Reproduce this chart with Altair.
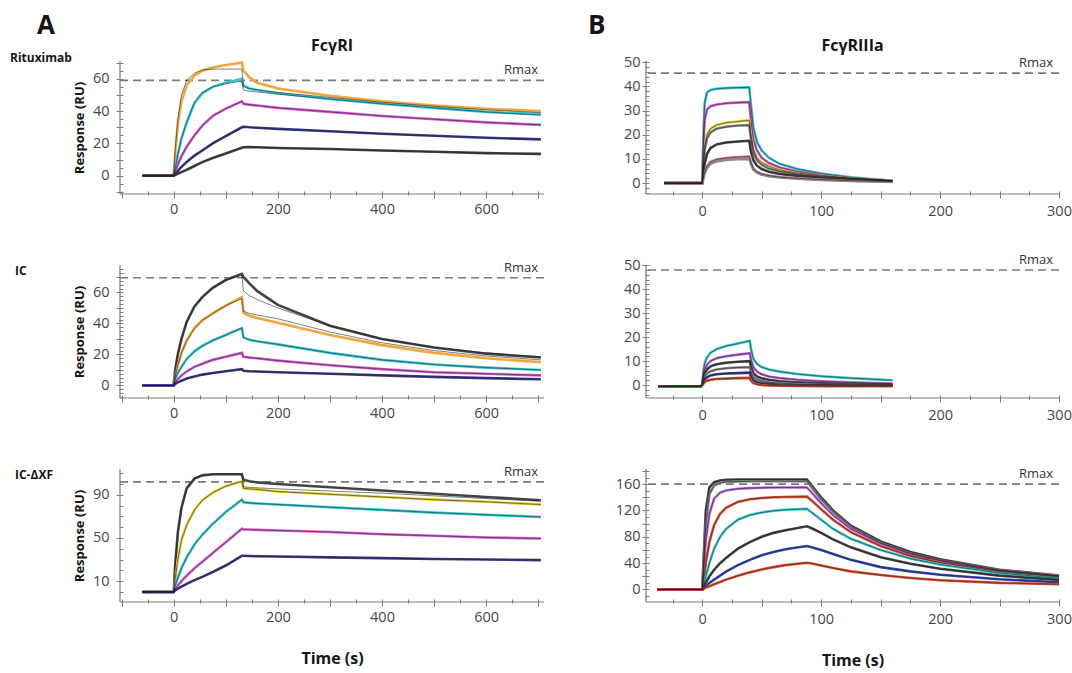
import altair as alt
import pandas as pd

FONT = "Open Sans"
AXIS_GREY = "#7c7c7c"
TICK_LABEL = "#474747"
INK = "#151515"
FIT_INK = "#1c1c1c"

CYAN = "#36c8d6"
MAGENTA = "#d95ad4"
ORANGE = "#f3a63c"
YELLOW = "#e3d02e"
NAVY = "#3a3a8c"
GREY = "#8a8a8a"
DARK = "#444444"
PINK = "#e47a86"
RED = "#e04e2c"
BLUE = "#3448c0"
PURPLE = "#b865dc"

# ---------------- FcγRI (left column), time in s ----------------
T_FC1 = [-60, 0, 3, 8, 15, 25, 40, 55, 75, 100, 131, 134, 145, 160, 200, 300, 400, 500, 600, 705]

RITU1_ORANGE = [0, 0, 14, 32, 46, 56, 62, 65, 67, 68.5, 70, 65, 61, 57.5, 54, 49.5, 46, 43.5, 41.5, 40]
RITU1_FIT1 = [0, 0, 16, 35, 50, 59, 63.5, 65.5, 66, 66, 66, 55, 54, 53.2, 51.5, 48.5, 45.5, 43, 40.8, 39]
RITU1_CYAN = [0, 0, 5, 13, 23, 33, 45, 51, 55, 57.5, 60, 56, 54, 53, 51, 47.5, 44.5, 42, 39.5, 38]
RITU1_FIT2 = [0, 0, 5, 13, 23, 33, 45.5, 51.5, 55, 57, 58.5, 53, 52.3, 51.8, 50.5, 47.5, 44.5, 42, 39.5, 37.5]
RITU1_MAGENTA = [0, 0, 3, 7, 12, 18, 25, 31, 37, 41.5, 46, 44.5, 44, 43.5, 42, 39.5, 37, 35, 33, 31.5]
RITU1_NAVY = [0, 0, 1, 3, 5.5, 8.5, 12.5, 15.6, 20, 24.5, 30, 30.3, 30, 29.7, 29, 27.5, 26, 24.7, 23.5, 22.5]
RITU1_GREY = [0, 0, 0.5, 1.2, 2.2, 3.7, 6, 8.4, 11, 13.8, 17.3, 17.6, 17.7, 17.6, 17.2, 16.5, 15.6, 14.8, 14, 13.5]

IC1_TOP = [0, 0, 10, 20, 30, 41, 51, 57, 63, 68, 72, 70, 66, 61, 52, 38.5, 30, 24.5, 20.5, 18]
IC1_FIT1 = [0, 0, 10, 20, 30, 41, 51, 57, 63, 68, 71, 61, 58, 55.5, 50, 38.5, 30, 24.5, 21, 18.5]
IC1_ORANGE = [0, 0, 6, 13, 21, 29, 37, 42, 46.5, 51.5, 57, 47, 45, 43.5, 40.5, 32.5, 26, 21, 17.5, 15]
IC1_FIT2 = [0, 0, 6, 13, 21, 29, 37, 42, 46.5, 51.5, 56, 48, 46.5, 45.5, 43, 34.5, 27.5, 22.5, 19, 16.5]
IC1_CYAN = [0, 0, 4, 8, 12, 17, 22, 25.5, 29, 32.5, 37, 31, 29.5, 28.5, 26.5, 21, 16.5, 13.5, 11.5, 10]
IC1_MAGENTA = [0, 0, 2, 4, 6.5, 9, 12, 14, 16.5, 18.5, 21, 18.5, 18, 17.5, 16, 13, 10.5, 8.5, 7.5, 6.5]
IC1_NAVY = [0, 0, 1, 2, 3, 4.5, 5.8, 7, 8, 9.2, 10.5, 9.5, 9.2, 9, 8.5, 7.5, 6.5, 5.5, 4.7, 4]

DXF1_TOP = [0, 0, 25, 55, 78, 96, 105, 108, 109, 109, 109, 104, 102.5, 101.5, 100, 97, 94, 91, 88, 85]
DXF1_FIT1 = [0, 0, 25, 55, 78, 96, 105, 108, 109, 109, 109, 97.5, 97, 96.5, 95.5, 93.5, 91.5, 89, 86.5, 84]
DXF1_YELLOW = [0, 0, 12, 30, 48, 62, 76, 85, 92, 98, 102.5, 96, 95.5, 95, 93, 90.5, 88, 85.5, 83.5, 81]
DXF1_CYAN = [0, 0, 6, 13, 22, 32, 44, 53, 63, 74, 85.5, 83, 82.5, 82, 81, 78.5, 76, 73.5, 71.5, 69.5]
DXF1_MAGENTA = [0, 0, 3, 6, 10, 15, 22, 28, 36, 46, 58.5, 58, 57.8, 57.5, 57, 55.5, 53.5, 52, 50.5, 49.5]
DXF1_NAVY = [0, 0, 1.5, 3, 5, 7.5, 11, 14, 18.5, 24.5, 33.5, 33.5, 33.3, 33.1, 32.8, 32, 31.3, 30.6, 30, 29.5]

# ---------------- FcγRIIIa (right column), time in s ----------------
T_FC3_RITU = [-32, 0, 1, 2, 4, 7, 12, 20, 30, 39.5, 41, 43, 46, 50, 56, 65, 80, 100, 125, 160]
RITU3_CYAN = [0, 0, 20, 33, 37.5, 38.5, 39, 39.3, 39.5, 39.6, 32, 23, 17, 13.5, 10.5, 8, 5.8, 4, 2.4, 1]
RITU3_MAGENTA = [0, 0, 15, 26, 30.5, 31.8, 32.5, 33, 33.3, 33.5, 26, 18, 13.5, 10.5, 8.3, 6.5, 4.8, 3.3, 2, 1]
RITU3_YELLOW = [0, 0, 8, 15, 20, 22.5, 24, 25, 25.5, 26, 20, 14, 10.5, 8.5, 7, 5.5, 4.2, 3, 1.9, 1]
RITU3_GREY = [0, 0, 7, 13.5, 18.5, 21, 22.5, 23.3, 23.8, 24, 18, 12.5, 9.5, 7.5, 6, 4.8, 3.7, 2.6, 1.7, 0.9]
RITU3_BLACK = [0, 0, 4, 8, 12, 14.5, 16, 16.8, 17.2, 17.5, 13, 9.5, 7.2, 5.8, 4.7, 3.8, 3, 2.2, 1.5, 0.8]
RITU3_PINK = [0, 0, 2.5, 4.5, 7, 8.8, 9.8, 10.4, 10.8, 11, 8.5, 6, 4.7, 3.8, 3.1, 2.5, 2, 1.5, 1, 0.6]
RITU3_GREY2 = [0, 0, 2, 4, 6.3, 8, 9, 9.6, 9.9, 10, 7.8, 5.5, 4.3, 3.5, 2.9, 2.3, 1.8, 1.3, 0.9, 0.5]

T_FC3_IC = [-37, -1, 0, 1, 2, 4, 7, 12, 20, 30, 40, 41, 43, 46, 50, 56, 65, 80, 100, 125, 160]
IC3_CYAN = [-0.5, -0.5, 0, 6, 9, 11.5, 13.5, 15, 16.3, 17.3, 18.5, 15, 11, 8.8, 7.5, 6.5, 5.6, 4.6, 3.7, 2.9, 2]
IC3_MAGENTA = [-0.5, -0.5, 0, 4, 6.5, 8.5, 10, 11.2, 12, 12.7, 13.3, 10.5, 7.5, 5.6, 4.5, 3.6, 2.9, 2.2, 1.6, 1.1, 0.6]
IC3_BLACK = [-0.5, -0.5, 0, 3, 5, 6.5, 7.8, 8.7, 9.3, 9.7, 10, 7.5, 5, 3.6, 2.8, 2.2, 1.6, 1.1, 0.7, 0.4, 0.2]
IC3_DARK = [-0.5, -0.5, 0, 2, 3.6, 4.8, 5.8, 6.5, 7, 7.3, 7.5, 5.5, 3.5, 2.4, 1.7, 1.2, 0.8, 0.4, 0.2, 0, -0.1]
IC3_NAVY = [-0.5, -0.5, 0, 1.2, 2.4, 3.2, 4, 4.5, 4.8, 5, 5.2, 3.5, 2, 1.2, 0.7, 0.4, 0.1, -0.1, -0.2, -0.3, -0.3]
IC3_RED = [-0.5, -0.5, 0, 0.6, 1.2, 1.8, 2.2, 2.5, 2.7, 2.9, 3, 1.8, 0.8, 0.3, 0, -0.2, -0.3, -0.4, -0.5, -0.5, -0.5]

T_FC3_DXF = [-38, 0, 1, 3, 6, 10, 15, 20, 30, 40, 50, 60, 70, 88, 92, 100, 110, 125, 150, 175, 200, 250, 300]
DXF3_BLACK1 = [0, 0, 40, 120, 155, 163, 165.5, 166.5, 167, 167, 167, 167, 167, 167, 158, 140, 120, 97, 73, 57, 46, 30, 21]
DXF3_BLACK2 = [0, 0, 30, 100, 145, 158, 162, 163.5, 164, 164.3, 164.5, 164.5, 164.5, 164.5, 155, 137, 118, 95, 71, 55, 44.5, 29, 20.5]
DXF3_MAGENTA = [0, 0, 25, 75, 115, 138, 147, 150.5, 153, 154, 154.5, 155, 155, 155, 147, 131, 113, 92, 70, 54, 43.5, 28.5, 20]
DXF3_RED = [0, 0, 12, 40, 72, 98, 115, 124, 133, 137, 139, 140, 140.5, 141, 135, 122, 106, 87, 66, 51, 41, 27, 19]
DXF3_CYAN = [0, 0, 6, 20, 40, 62, 80, 92, 106, 113, 117, 119.5, 121, 122.5, 117, 106, 92, 77, 60, 47, 38, 25, 17]
DXF3_GREY = [0, 0, 3, 10, 20, 30, 40, 48, 62, 72, 80, 86, 90, 96, 93, 86, 76, 64, 49, 39, 31.5, 21, 14.5]
DXF3_BLUE = [0, 0, 1.5, 5, 10, 15, 21, 27, 37, 45, 52, 57, 61, 66, 64, 60, 54, 45, 34, 27.5, 22.5, 15.5, 11]
DXF3_RED2 = [0, 0, 1, 3, 5, 8, 11.5, 15, 21, 26, 30.5, 34, 37, 40.5, 39.5, 36.5, 32.5, 27.5, 22, 17.5, 14, 10, 8]

# Rmax levels
RMAX = {"A1": 59, "A2": 69.5, "A3": 102, "B1": 45.5, "B2": 48, "B3": 160}

# tick positions
LEFT_XTICKS = list(range(-100, 701, 50))
RIGHT_XTICKS = list(range(-25, 301, 25))
A1_YTICKS = list(range(-10, 71, 5))
A2_YTICKS = [v / 2 for v in range(-15, 151, 5)]
A3_YTICKS = list(range(-10, 111, 10))
B12_YTICKS = list(range(-4, 51, 2))
B3_YTICKS = list(range(-20, 181, 10))

LEFT_W, RIGHT_W, ROW_H = 424, 413, 133
LEFT_XDOM = [-103, 711]
RIGHT_XDOM = [-47.3, 300]


def long_df(times, series):
    rows = []
    for name, color, vals in series:
        for t, v in zip(times, vals):
            rows.append({"t": t, "v": v, "curve": name, "col": color})
    return pd.DataFrame(rows)


def tick_size(test):
    return {"condition": {"test": test, "value": 7}, "value": 4}


def panel(times, data_series, fit_series, xdom, ydom, width, xvals, x_major, x_label,
          yvals, y_major, y_label, rmax, ylab_pad, xlab_pad,
          y_title=None, x_title=None, title=None, notes=()):
    xscale = alt.Scale(domain=xdom, nice=False, zero=False)
    yscale = alt.Scale(domain=ydom, nice=False, zero=False)
    common = dict(offset=-3, domain=False, grid=False, tickColor=AXIS_GREY, tickWidth=1,
                  labelFont=FONT, labelFontSize=14.5, labelColor=TICK_LABEL,
                  labelFlush=False, labelOverlap=False)
    xkw = dict(common, values=xvals, labelExpr=f"({x_label}) ? datum.label : ''",
               tickSize=tick_size(x_major), labelPadding=xlab_pad)
    if x_title:
        xkw.update(title=x_title, titleFont=FONT, titleFontSize=16, titleFontWeight="bold",
                   titleColor=INK, titlePadding=27)
    else:
        xkw["title"] = None
    ykw = dict(common, values=yvals, labelExpr=f"({y_label}) ? datum.label : ''",
               tickSize=tick_size(y_major), labelPadding=ylab_pad)
    if y_title:
        ykw.update(title=y_title, titleFont=FONT, titleFontSize=13, titleFontWeight="bold",
                   titleColor=INK, titlePadding=6)
    else:
        ykw["title"] = None
    xaxis = alt.Axis(**xkw)
    yaxis = alt.Axis(**ykw)
    X = alt.X("t:Q", scale=xscale, axis=xaxis)
    Y = alt.Y("v:Q", scale=yscale, axis=yaxis)

    ddf = long_df(times, data_series)
    fdf = long_df(times, [(n, FIT_INK, v) for n, v in fit_series])
    one = pd.DataFrame({"k": [0]})
    rdf = pd.DataFrame({"v": [rmax], "label": ["Rmax"]})

    layers = [
        alt.Chart(rdf).mark_rule(color="#7a7a7a", strokeDash=[8, 5], strokeWidth=1.6).encode(y=Y),
        alt.Chart(rdf).mark_text(align="right", baseline="bottom", dy=-3, fontSize=13,
                                 font=FONT, color="#333333").encode(
            y=Y, x=alt.value(width - 6), text="label:N"),
        alt.Chart(ddf).mark_line(strokeWidth=2.6).encode(
            x=X, y=Y, color=alt.Color("col:N", scale=None), detail="curve:N"),
        alt.Chart(fdf).mark_line(strokeWidth=0.8, color=FIT_INK, opacity=0.7).encode(
            x=X, y=Y, detail="curve:N"),
        alt.Chart(one).mark_rule(color=AXIS_GREY, strokeWidth=1.2).encode(
            x=alt.value(0), x2=alt.value(width), y=alt.value(ROW_H)),
        alt.Chart(one).mark_rule(color=AXIS_GREY, strokeWidth=1.2).encode(
            x=alt.value(0), y=alt.value(0), y2=alt.value(ROW_H)),
    ]
    if title:
        layers.append(
            alt.Chart(pd.DataFrame({"s": [title]})).mark_text(
                align="center", baseline="alphabetic", fontSize=16, fontWeight="bold",
                font=FONT, color=INK).encode(x=alt.value(width / 2), y=alt.value(-10), text="s:N"))
    for txt, px, py, size, base in notes:
        layers.append(
            alt.Chart(pd.DataFrame({"s": [txt]})).mark_text(
                align="left", baseline=base, fontSize=size, fontWeight="bold",
                font=FONT, color=INK).encode(x=alt.value(px), y=alt.value(py), text="s:N"))
    return alt.layer(*layers).properties(width=width, height=ROW_H)


A_X = dict(xdom=LEFT_XDOM, width=LEFT_W, xvals=LEFT_XTICKS,
           x_major="datum.value % 100 === 0", x_label="datum.value % 200 === 0",
           ylab_pad=7, xlab_pad=4)
B_X = dict(xdom=RIGHT_XDOM, width=RIGHT_W, xvals=RIGHT_XTICKS,
           x_major="datum.value % 50 === 0", x_label="datum.value % 100 === 0",
           ylab_pad=2, xlab_pad=6)

pA1 = panel(T_FC1,
            [("o", ORANGE, RITU1_ORANGE), ("c", CYAN, RITU1_CYAN), ("m", MAGENTA, RITU1_MAGENTA),
             ("n", NAVY, RITU1_NAVY), ("g", DARK, RITU1_GREY)],
            [("f1", RITU1_FIT1), ("f2", RITU1_FIT2), ("f3", RITU1_MAGENTA),
             ("f4", RITU1_NAVY), ("f5", RITU1_GREY)],
            ydom=[-11.3, 71], yvals=A1_YTICKS, y_major="datum.value % 10 === 0",
            y_label="datum.value % 20 === 0", rmax=RMAX["A1"], y_title="Response (RU)",
            title="FcγRI",
            notes=[("A", -83, -27.5, 26, "alphabetic"), ("Rituximab", -110, -3.5, 12, "middle")],
            **A_X)

pB1 = panel(T_FC3_RITU,
            [("c", CYAN, RITU3_CYAN), ("m", MAGENTA, RITU3_MAGENTA), ("y", YELLOW, RITU3_YELLOW),
             ("g", GREY, RITU3_GREY), ("k", DARK, RITU3_BLACK), ("p", PINK, RITU3_PINK),
             ("g2", GREY, RITU3_GREY2)],
            [("f1", RITU3_CYAN), ("f2", RITU3_MAGENTA), ("f3", RITU3_YELLOW), ("f4", RITU3_GREY),
             ("f5", RITU3_BLACK), ("f6", RITU3_PINK)],
            ydom=[-4.5, 50.5], yvals=B12_YTICKS, y_major="datum.value % 10 === 0",
            y_label="datum.value % 10 === 0", rmax=RMAX["B1"], title="FcγRIIIa",
            notes=[("B", -58, -27.5, 26, "alphabetic")],
            **B_X)

pA2 = panel(T_FC1,
            [("k", DARK, IC1_TOP), ("o", ORANGE, IC1_ORANGE), ("c", CYAN, IC1_CYAN),
             ("m", MAGENTA, IC1_MAGENTA), ("n", NAVY, IC1_NAVY)],
            [("f1", IC1_FIT1), ("f2", IC1_FIT2), ("f3", IC1_CYAN), ("f4", IC1_MAGENTA),
             ("f5", IC1_NAVY)],
            ydom=[-8.1, 77.7], yvals=A2_YTICKS, y_major="datum.value % 10 === 0",
            y_label="datum.value % 20 === 0", rmax=RMAX["A2"], y_title="Response (RU)",
            notes=[("IC", -105, 5.5, 12, "middle")],
            **A_X)

pB2 = panel(T_FC3_IC,
            [("c", CYAN, IC3_CYAN), ("m", PURPLE, IC3_MAGENTA), ("k", DARK, IC3_BLACK),
             ("d", GREY, IC3_DARK), ("n", NAVY, IC3_NAVY), ("r", RED, IC3_RED)],
            [("f1", IC3_CYAN), ("f2", IC3_MAGENTA), ("f3", IC3_BLACK), ("f4", IC3_DARK),
             ("f5", IC3_NAVY), ("f6", IC3_RED)],
            ydom=[-5.4, 50.1], yvals=B12_YTICKS, y_major="datum.value % 10 === 0",
            y_label="datum.value % 10 === 0", rmax=RMAX["B2"],
            **B_X)

pA3 = panel(T_FC1,
            [("k", DARK, DXF1_TOP), ("y", YELLOW, DXF1_YELLOW), ("c", CYAN, DXF1_CYAN),
             ("m", MAGENTA, DXF1_MAGENTA), ("n", NAVY, DXF1_NAVY)],
            [("f1", DXF1_FIT1), ("f2", DXF1_YELLOW), ("f3", DXF1_CYAN), ("f4", DXF1_MAGENTA),
             ("f5", DXF1_NAVY)],
            ydom=[-9.3, 113.9], yvals=A3_YTICKS, y_major="(datum.value - 10) % 40 === 0",
            y_label="(datum.value - 10) % 40 === 0", rmax=RMAX["A3"], y_title="Response (RU)",
            x_title="Time (s)",
            notes=[("IC-ΔXF", -105, 5.5, 12, "middle")],
            **A_X)

pB3 = panel(T_FC3_DXF,
            [("k1", DARK, DXF3_BLACK1), ("k2", GREY, DXF3_BLACK2), ("m", PURPLE, DXF3_MAGENTA),
             ("r", RED, DXF3_RED), ("c", CYAN, DXF3_CYAN), ("g", DARK, DXF3_GREY),
             ("b", BLUE, DXF3_BLUE), ("r2", RED, DXF3_RED2)],
            [("f1", DXF3_BLACK1), ("f2", DXF3_BLACK2), ("f3", DXF3_MAGENTA), ("f4", DXF3_RED),
             ("f5", DXF3_CYAN), ("f6", DXF3_GREY), ("f7", DXF3_BLUE), ("f8", DXF3_RED2)],
            ydom=[-19, 183], yvals=B3_YTICKS, y_major="datum.value % 20 === 0",
            y_label="datum.value % 40 === 0", rmax=RMAX["B3"], x_title="Time (s)",
            **B_X)

chart = alt.concat(pA1, pB1, pA2, pB2, pA3, pB3, columns=2).properties(
    spacing={"row": 71, "column": 102},
    bounds="flush",
    padding={"left": 10, "top": 12, "right": 0, "bottom": 2},
    background="white",
).resolve_scale(x="independent", y="independent").configure_view(stroke=None)

chart.save("out.html", embed_options={"renderer": "svg", "actions": False})
